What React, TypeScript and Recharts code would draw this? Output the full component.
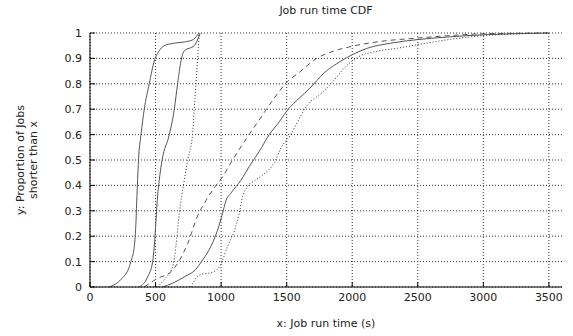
import React from 'react'
import { LineChart, Line, XAxis, YAxis, CartesianGrid } from 'recharts'

// [run time (s), cumulative proportion]
const fastA = [
  [145, 0], [236, 0.03], [300, 0.08], [312, 0.1], [338, 0.16], [351, 0.26], [358, 0.36],
  [363, 0.42], [370, 0.5], [389, 0.6], [414, 0.7], [452, 0.8], [490, 0.89], [528, 0.93],
  [566, 0.95], [643, 0.96], [744, 0.967], [790, 0.975], [830, 1],
]
const fastB = [
  [376, 0], [440, 0.04], [478, 0.1], [490, 0.16], [503, 0.26], [516, 0.36], [528, 0.42],
  [550, 0.5], [605, 0.6], [643, 0.7], [668, 0.8], [694, 0.89], [719, 0.93], [795, 0.95],
  [833, 0.99], [840, 1],
]
const fastC = [
  [516, 0], [567, 0.03], [630, 0.08], [655, 0.16], [681, 0.29], [719, 0.42], [745, 0.5],
  [782, 0.6], [795, 0.7], [808, 0.8], [821, 0.9], [833, 1],
]
const slowA = [
  [414, 0], [516, 0.034], [617, 0.06], [668, 0.093], [744, 0.17], [821, 0.28], [884, 0.34],
  [947, 0.39], [1011, 0.434], [1087, 0.5], [1200, 0.59], [1300, 0.665], [1400, 0.74],
  [1490, 0.8], [1608, 0.85], [1728, 0.9], [1837, 0.925], [2002, 0.948], [2218, 0.967],
  [2498, 0.98], [2750, 0.99], [3000, 0.997], [3500, 1],
]
const slowB = [
  [554, 0], [630, 0.015], [719, 0.04], [808, 0.07], [850, 0.1], [922, 0.16], [973, 0.224],
  [1011, 0.29], [1037, 0.34], [1075, 0.37], [1151, 0.42], [1214, 0.474], [1290, 0.533],
  [1367, 0.6], [1443, 0.65], [1507, 0.697], [1595, 0.743], [1672, 0.78], [1786, 0.843],
  [1913, 0.889], [2002, 0.915], [2116, 0.94], [2294, 0.96], [2498, 0.974], [2750, 0.985],
  [3000, 0.993], [3300, 0.998], [3500, 1],
]
const slowC = [
  [770, 0], [833, 0.047], [947, 0.06], [998, 0.09], [1049, 0.16], [1100, 0.22], [1138, 0.29],
  [1164, 0.355], [1200, 0.395], [1260, 0.42], [1316, 0.44], [1405, 0.49], [1460, 0.55],
  [1530, 0.6], [1583, 0.65], [1659, 0.717], [1760, 0.76], [1837, 0.8], [1964, 0.875],
  [2053, 0.908], [2193, 0.928], [2345, 0.94], [2498, 0.954], [2750, 0.975], [3000, 0.99],
  [3300, 0.997], [3500, 1],
]

const xTicks = [0, 500, 1000, 1500, 2000, 2500, 3000, 3500]
const yTicks = [0, 0.1, 0.2, 0.3, 0.4, 0.5, 0.6, 0.7, 0.8, 0.9, 1]

const SERIES = [
  { name: 'fastA', pts: fastA, dash: undefined },
  { name: 'fastB', pts: fastB, dash: undefined },
  { name: 'fastC', pts: fastC, dash: '1 2' },
  { name: 'slowA', pts: slowA, dash: '5 4' },
  { name: 'slowB', pts: slowB, dash: undefined },
  { name: 'slowC', pts: slowC, dash: '1 2' },
]

const FONT = '"DejaVu Sans", sans-serif'
const tickStyle = { fontSize: 11, fill: '#222', fontFamily: FONT }

export default function App() {
  return (
    <div style={{ position: 'absolute', left: 0, top: 0, width: 573, height: 336, fontFamily: FONT, color: '#222' }}>
      <div style={{ position: 'absolute', left: 226, width: 200, top: 4, textAlign: 'center', fontSize: 11 }}>
        Job run time CDF
      </div>
      <div style={{ position: 'absolute', left: 226, width: 200, top: 317, textAlign: 'center', fontSize: 11 }}>
        x: Job run time (s)
      </div>
      <div
        style={{
          position: 'absolute', left: 27 - 100, top: 160 - 13, width: 200, height: 26,
          textAlign: 'center', fontSize: 11, lineHeight: '13px', transform: 'rotate(-90deg)',
        }}
      >
        y: Proportion of Jobs<br />shorter than x
      </div>
      <LineChart width={573} height={336} margin={{ top: 33, right: 11, left: 40, bottom: 29 }}>
        <CartesianGrid stroke="#333" strokeDasharray="1 2" horizontalValues={yTicks} verticalValues={xTicks} />
        <XAxis
          dataKey="x" type="number" domain={[0, 3600]} ticks={xTicks} height={20}
          axisLine={{ stroke: '#000' }} tickLine={{ stroke: '#000' }} tickSize={-5} tickMargin={11}
          tick={tickStyle} allowDataOverflow
        />
        <XAxis
          xAxisId="top" orientation="top" type="number" domain={[0, 3600]} ticks={xTicks} height={0}
          axisLine={{ stroke: '#000' }} tickLine={{ stroke: '#000' }} tickSize={-5} tick={false}
        />
        <YAxis
          type="number" domain={[0, 1]} ticks={yTicks} width={50}
          axisLine={{ stroke: '#000' }} tickLine={{ stroke: '#000' }} tickSize={-5} tickMargin={13}
          tick={tickStyle}
        />
        <YAxis
          yAxisId="r" orientation="right" type="number" domain={[0, 1]} ticks={yTicks} width={0}
          axisLine={{ stroke: '#000' }} tickLine={{ stroke: '#000' }} tickSize={-5} tick={false}
        />
        {SERIES.map((s) => (
          <Line
            key={s.name}
            data={s.pts.map(([x, y]) => ({ x, y }))}
            dataKey="y"
            stroke={s.dash === '1 2' ? '#333' : '#555'}
            strokeWidth={1}
            strokeDasharray={s.dash}
            dot={false}
            type="monotoneX"
            isAnimationActive={false}
          />
        ))}
      </LineChart>
    </div>
  )
}
